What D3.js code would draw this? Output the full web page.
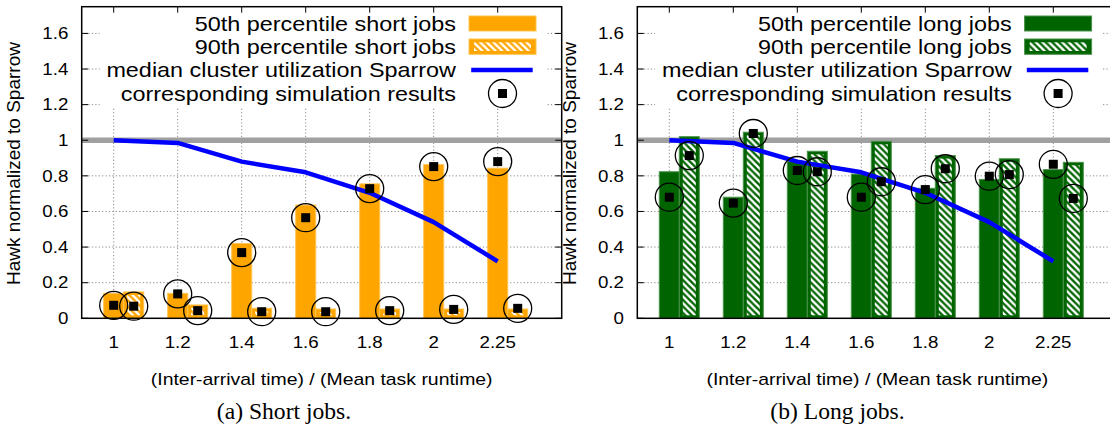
<!DOCTYPE html>
<html>
<head>
<meta charset="utf-8">
<script src="https://cdn.jsdelivr.net/npm/d3@7"></script>
<style>
  html, body { margin: 0; padding: 0; background: #fff; overflow: hidden; }
  svg { display: block; }
  text { font-family: "Liberation Sans", Arial, Helvetica, sans-serif; fill: #000; }
  .caption { font-family: "Liberation Serif", "Times New Roman", serif; }
</style>
</head>
<body>
<svg id="chart" width="1110" height="428"></svg>
<script>
// Load ratio categories and y-axis ticks
const ratios = ["1", "1.2", "1.4", "1.6", "1.8", "2", "2.25"];
const yTicks = [0, 0.2, 0.4, 0.6, 0.8, 1, 1.2, 1.4, 1.6];

// Median cluster utilization under Sparrow (same workload in both panels)
const sparrowUtil = [1.0, 0.985, 0.88, 0.82, 0.705, 0.54, 0.32];

// Short jobs: Hawk runtime normalized to Sparrow
const shortP50 = [0.14, 0.14, 0.42, 0.636, 0.755, 0.863, 0.843];
const shortP90 = [0.148, 0.075, 0.056, 0.052, 0.052, 0.052, 0.052];
const shortSimP50 = [0.073, 0.137, 0.369, 0.565, 0.728, 0.852, 0.88];
const shortSimP90 = [0.068, 0.043, 0.037, 0.037, 0.043, 0.05, 0.056];

// Long jobs: Hawk runtime normalized to Sparrow
const longP50 = [0.823, 0.68, 0.88, 0.81, 0.73, 0.78, 0.835];
const longP90 = [1.02, 1.045, 0.938, 0.994, 0.914, 0.896, 0.876];
const longSimP50 = [0.68, 0.647, 0.83, 0.68, 0.723, 0.798, 0.865];
const longSimP90 = [0.914, 1.038, 0.823, 0.767, 0.84, 0.807, 0.673];

const panels = [
  {
    left: 81.7, color: "#ffa500", edge: "#ffc24f", hatchId: "hatch-short",
    p50: shortP50, p90: shortP90, sim50: shortSimP50, sim90: shortSimP90,
    keys: ["50th percentile short jobs", "90th percentile short jobs",
           "median cluster utilization Sparrow", "corresponding simulation results"],
    caption: "(a) Short jobs.", captionX: 284
  },
  {
    left: 637.3, color: "#006400", edge: "#4a914a", hatchId: "hatch-long",
    p50: longP50, p90: longP90, sim50: longSimP50, sim90: longSimP90,
    keys: ["50th percentile long jobs", "90th percentile long jobs",
           "median cluster utilization Sparrow", "corresponding simulation results"],
    caption: "(b) Long jobs.", captionX: 837.5
  }
];

const TOP = 6.7, W = 480, H = 311.6;
const SX = 1.17;          // horizontal stretch of the plot lettering
const BW = 0.3125;        // bar width in category units
const HP = 6.6;           // hatch period

const x = d3.scaleLinear().domain([-0.5, 7]).range([0, W]);
const y = d3.scaleLinear().domain([0, 1.75]).range([H, 0]);

const svg = d3.select("#chart");
const defs = svg.append("defs");

function makeHatch(id, color) {
  const p = defs.append("pattern")
    .attr("id", id).attr("patternUnits", "userSpaceOnUse")
    .attr("width", HP).attr("height", HP);
  p.append("rect").attr("width", HP).attr("height", HP).attr("fill", color);
  p.append("path")
    .attr("d", `M0,0L${HP},${HP}M-2,${HP - 2}L2,${HP + 2}M${HP - 2},-2L${HP + 2},2`)
    .attr("stroke", "#fff").attr("stroke-width", 2.5);
}

function txt(g, str, tx, ty, size, anchor, sx = SX) {
  return g.append("text")
    .attr("transform", `translate(${tx},${ty}) scale(${sx},1)`)
    .attr("text-anchor", anchor)
    .style("font-size", size + "px")
    .text(str);
}

function hatchedRect(g, x0, y0, w, h, cfg, insetX, insetY) {
  g.append("rect").attr("x", x0).attr("y", y0).attr("width", w).attr("height", h)
    .attr("fill", cfg.color).attr("stroke", cfg.edge).attr("stroke-width", 1);
  const iw = w - 2 * insetX, ih = h - 2 * insetY;
  if (iw > 0 && ih > 0) {
    g.append("rect").attr("x", x0 + insetX).attr("y", y0 + insetY)
      .attr("width", iw).attr("height", ih)
      .attr("fill", `url(#${cfg.hatchId})`);
  }
}

function marker(g, cx, cy) {
  g.append("circle").attr("cx", cx).attr("cy", cy).attr("r", 14)
    .attr("fill", "none").attr("stroke", "#000").attr("stroke-width", 1.3);
  g.append("rect").attr("x", cx - 4.5).attr("y", cy - 4.5)
    .attr("width", 9).attr("height", 9).attr("fill", "#000");
}

function drawPanel(cfg) {
  makeHatch(cfg.hatchId, cfg.color);
  const g = svg.append("g").attr("transform", `translate(${cfg.left},${TOP})`);
  const idx = d3.range(ratios.length);

  // dotted grid
  const grid = g.append("g").attr("stroke", "#888").attr("stroke-width", 1)
    .attr("stroke-dasharray", "1.2,2.2");
  grid.selectAll(".gy").data(yTicks.filter(v => v > 0 && v !== 1)).join("line")
    .attr("x1", 0).attr("x2", W).attr("y1", d => y(d)).attr("y2", d => y(d));
  grid.selectAll(".gx").data(idx).join("line")
    .attr("x1", d => x(d)).attr("x2", d => x(d)).attr("y1", 0).attr("y2", H);

  // bottom tick marks
  g.append("g").selectAll("line").data(idx).join("line")
    .attr("x1", d => x(d)).attr("x2", d => x(d)).attr("y1", H).attr("y2", H - 6)
    .attr("stroke", "#000").attr("stroke-width", 1);

  // reference level at 1
  g.append("line").attr("x1", 0).attr("x2", W).attr("y1", y(1)).attr("y2", y(1))
    .attr("stroke", "#a0a0a0").attr("stroke-width", 5.5);

  // bars
  const bars = g.append("g");
  idx.forEach(i => {
    bars.append("rect")
      .attr("x", x(i - BW / 2)).attr("y", y(cfg.p50[i]))
      .attr("width", x(i + BW / 2) - x(i - BW / 2)).attr("height", y(0) - y(cfg.p50[i]))
      .attr("fill", cfg.color).attr("stroke", cfg.edge).attr("stroke-width", 1);
    hatchedRect(bars, x(i + BW / 2), y(cfg.p90[i]),
      x(i + 1.5 * BW) - x(i + BW / 2), y(0) - y(cfg.p90[i]), cfg, 3.5, 3);
  });

  // Sparrow utilization line
  g.append("path").datum(sparrowUtil)
    .attr("d", d3.line().x((d, i) => x(i)).y(d => y(d)))
    .attr("fill", "none").attr("stroke", "#0000ff").attr("stroke-width", 4.5)
    .attr("stroke-linejoin", "round");

  // simulation markers
  const mk = g.append("g");
  idx.forEach(i => {
    marker(mk, x(i), y(cfg.sim50[i]));
    marker(mk, x(i + BW), y(cfg.sim90[i]));
  });

  // key
  const key = g.append("g");
  key.append("rect").attr("x", 18).attr("y", 0).attr("width", 446.4).attr("height", 101.3)
    .attr("fill", "#fff");
  const keyBase = [24, 47.2, 70.5, 94];
  cfg.keys.forEach((k, j) => txt(key, k, 374.3, keyBase[j], 20, "end"));
  key.append("rect").attr("x", 387.3).attr("y", 9.3).attr("width", 67).attr("height", 15)
    .attr("fill", cfg.color).attr("stroke", cfg.edge).attr("stroke-width", 1);
  hatchedRect(key, 387.3, 32.3, 67, 15.3, cfg, 5, 3.3);
  key.append("line").attr("x1", 389.5).attr("x2", 451).attr("y1", 63.3).attr("y2", 63.3)
    .attr("stroke", "#0000ff").attr("stroke-width", 4.5);
  marker(key, 420.8, 86.8);

  // frame and tick marks
  const fr = g.append("g").attr("stroke", "#000");
  fr.append("rect").attr("width", W).attr("height", H).attr("fill", "none").attr("stroke-width", 1.5);
  fr.selectAll(".ty").data(yTicks).join("line")
    .attr("x1", 0).attr("x2", 6.5).attr("y1", d => y(d)).attr("y2", d => y(d)).attr("stroke-width", 1);
  fr.selectAll(".tyr").data(yTicks).join("line")
    .attr("x1", W - 6.5).attr("x2", W).attr("y1", d => y(d)).attr("y2", d => y(d)).attr("stroke-width", 1);
  fr.selectAll(".tx").data(idx).join("line")
    .attr("x1", d => x(d)).attr("x2", d => x(d)).attr("y1", 0).attr("y2", 6).attr("stroke-width", 1);

  // tick labels
  const lab = g.append("g");
  yTicks.forEach(v => txt(lab, d3.format("~g")(v), -13.4, y(v) + 5.7, 16, "end"));
  ratios.forEach((r, i) => txt(lab, r, x(i), 341.6, 16, "middle"));

  // axis titles
  txt(lab, "(Inter-arrival time) / (Mean task runtime)", W / 2, 378.3, 16.6, "middle");
  lab.append("text")
    .attr("transform", `translate(-68,${163.5 - TOP}) rotate(-90)`)
    .attr("text-anchor", "middle").attr("dy", "0.35em")
    .style("font-size", "19px")
    .text("Hawk normalized to Sparrow");

  // sub-figure caption
  svg.append("text").attr("class", "caption")
    .attr("transform", `translate(${cfg.captionX},419.3) scale(1.05,1)`)
    .attr("text-anchor", "middle").style("font-size", "22.5px")
    .text(cfg.caption);
}

panels.forEach(drawPanel);
</script>
</body>
</html>
